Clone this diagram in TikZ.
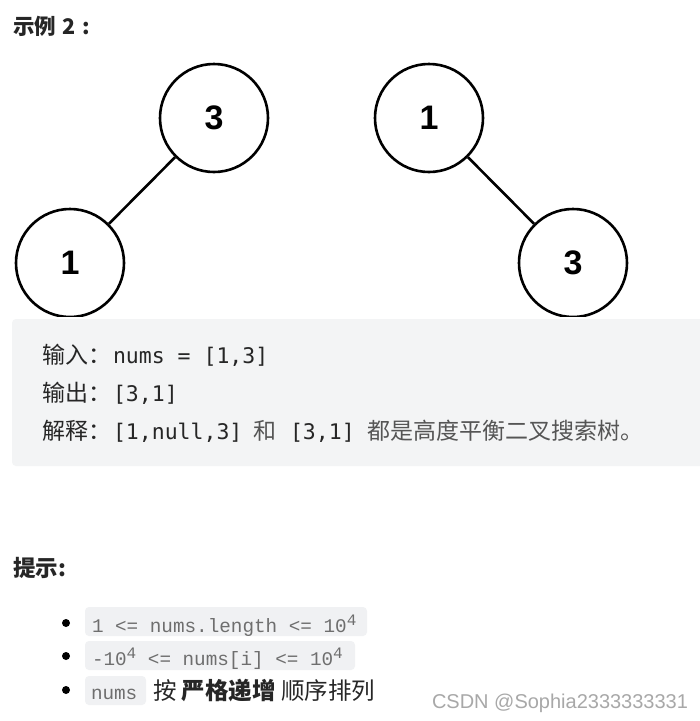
\documentclass[tikz,border=0pt]{standalone}
\usepackage{fontspec}
\setmainfont{Liberation Sans}
\newfontfamily\cjk{Noto Sans CJK SC}
\newfontfamily\codefont{DejaVu Sans Mono}
\newfontfamily\inlinecode{Liberation Mono}
\newfontfamily\wmfont{Liberation Sans}
\definecolor{boxgray}{HTML}{F3F4F5}
\definecolor{codegray}{HTML}{F0F1F3}
\definecolor{txt}{HTML}{262626}
\definecolor{midtxt}{HTML}{555555}
\definecolor{codetxt}{HTML}{6E6E6E}
\definecolor{wm}{HTML}{A8A8A8}
\tikzset{
  treenode/.style={circle, draw=black, line width=2.6pt, minimum size=108pt, inner sep=0pt,
    font=\fontsize{34}{34}\selectfont\bfseries},
  treeedge/.style={line width=2.6pt, draw=black},
  txtnode/.style={anchor=base west, inner sep=0pt, outer sep=0pt},
  bulletdot/.style={circle, fill=black, inner sep=0pt, minimum size=8pt},
}
\begin{document}
\begin{tikzpicture}[x=1pt, y=-1pt]
\useasboundingbox (0,0) rectangle (700,721);
\fill[white] (0,0) rectangle (700,721);
% title
\node[txtnode, text=txt] (title) at (13,34) {\fontsize{21.5}{21.5}\selectfont\cjk\textbf{示例\hspace{2pt} 2\hspace{6pt}:}};
% trees
\node[treenode] (a3) at (214,118) {3};
\node[treenode] (a1) at (70,263) {1};
\draw[treeedge] (a3) -- (a1);
\node[treenode] (b1) at (429,118) {1};
\node[treenode] (b3) at (573,263) {3};
\draw[treeedge] (b1) -- (b3);
% example box
\fill[boxgray, rounded corners=4pt] (12,319) rectangle (704,466);
\fill[white] (0,317) rectangle (700,319);
\node[txtnode, text=txt] (l1a) at (42,363) {\fontsize{23}{23}\selectfont\cjk 输入：};
\node[txtnode, text=txt] (l1b) at (113,363) {\fontsize{21.5}{21.5}\selectfont\codefont nums = [1,3]};
\node[txtnode, text=txt] (l2a) at (42,401) {\fontsize{23}{23}\selectfont\cjk 输出：};
\node[txtnode, text=txt] (l2b) at (113,401) {\fontsize{21.5}{21.5}\selectfont\codefont [3,1]};
\node[txtnode, text=txt] (l3a) at (42,439) {\fontsize{23}{23}\selectfont\cjk 解释：};
\node[txtnode, text=txt] (l3b) at (113,439) {\fontsize{21.5}{21.5}\selectfont\codefont [1,null,3]};
\node[txtnode, text=midtxt] (l3c) at (253,439) {\fontsize{23}{23}\selectfont\cjk 和};
\node[txtnode, text=txt] (l3d) at (290,439) {\fontsize{21.5}{21.5}\selectfont\codefont [3,1]};
\node[txtnode, text=midtxt] (l3e) at (367,439) {\fontsize{23}{23}\selectfont\cjk 都是高度平衡二叉搜索树。};
% hints
\node[txtnode, text=txt] (hint) at (13,576) {\fontsize{22.5}{22.5}\selectfont\cjk\textbf{提示:}};
\fill[codegray, rounded corners=4pt] (85,607) rectangle (367,636);
\fill[codegray, rounded corners=4pt] (85,641) rectangle (355,670);
\fill[codegray, rounded corners=4pt] (85,676) rectangle (146,705);
\node[bulletdot] (d1) at (66,623) {};
\node[bulletdot] (d2) at (66,656) {};
\node[bulletdot] (d3) at (66,690) {};
\node[txtnode, text=codetxt] (h1) at (92,632) {\fontsize{19.3}{19.3}\selectfont\inlinecode 1 <= nums.length <= 10\raisebox{7pt}{\fontsize{16}{16}\selectfont 4}};
\node[txtnode, text=codetxt] (h2) at (92,665) {\fontsize{19.3}{19.3}\selectfont\inlinecode -10\raisebox{7pt}{\fontsize{16}{16}\selectfont 4} <= nums[i] <= 10\raisebox{7pt}{\fontsize{16}{16}\selectfont 4}};
\node[txtnode, text=codetxt] (h3) at (91,699) {\fontsize{19.3}{19.3}\selectfont\inlinecode nums};
\node[txtnode, text=txt] (h3b) at (153,699) {\fontsize{23.5}{23.5}\selectfont\cjk 按 \textbf{严格递增} 顺序排列};
% watermark
\node[txtnode, text=wm] (wmk) at (432,708) {\fontsize{20}{20}\selectfont\wmfont CSDN @Sophia2333333331};
\end{tikzpicture}
\end{document}
